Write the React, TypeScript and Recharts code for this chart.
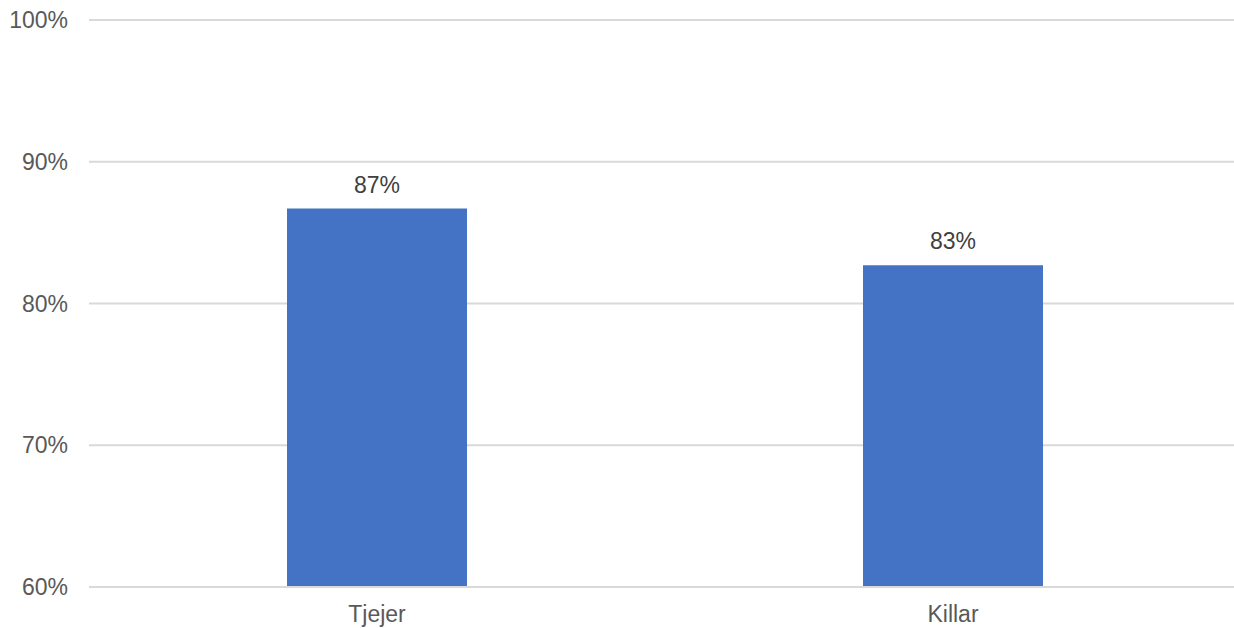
import { BarChart, Bar, XAxis, YAxis, CartesianGrid, LabelList } from 'recharts';

const categories = ['Tjejer', 'Killar'];
const shares = [86.7, 82.7];
const yTicks = [60, 70, 80, 90, 100];

const data = categories.map((name, i) => ({ name, value: shares[i] }));

const font = '"Liberation Sans", Arial, sans-serif';

const App = () => {
  return (
    <div
      style={{
        position: 'absolute',
        left: 0,
        top: 0,
        width: 1234,
        height: 628,
        overflow: 'hidden',
        background: '#fff',
        fontFamily: font,
      }}
    >
      <BarChart
        width={1241}
        height={628}
        data={data}
        margin={{ top: 20, right: 0, bottom: 0, left: 0 }}
      >
        <CartesianGrid vertical={false} stroke="#d9d9d9" strokeWidth={2} />
        <XAxis
          dataKey="name"
          height={41}
          tickLine={false}
          tickSize={0}
          tickMargin={19}
          axisLine={{ stroke: '#d9d9d9', strokeWidth: 2 }}
          tick={{ fill: '#595959', fontSize: 23, fontFamily: font }}
        />
        <YAxis
          width={89}
          domain={[60, 100]}
          ticks={yTicks}
          allowDataOverflow
          tickLine={false}
          axisLine={false}
          tickSize={0}
          tickMargin={21}
          tickFormatter={(v) => `${v}%`}
          tick={{ fill: '#595959', fontSize: 23, fontFamily: font }}
        />
        <Bar dataKey="value" fill="#4472c4" barSize={180} isAnimationActive={false}>
          <LabelList
            dataKey="value"
            position="top"
            offset={16}
            formatter={(v: number) => `${Math.round(v)}%`}
            style={{ fill: '#404040', fontSize: 23, fontFamily: font }}
          />
        </Bar>
      </BarChart>
    </div>
  );
};

export default App;
